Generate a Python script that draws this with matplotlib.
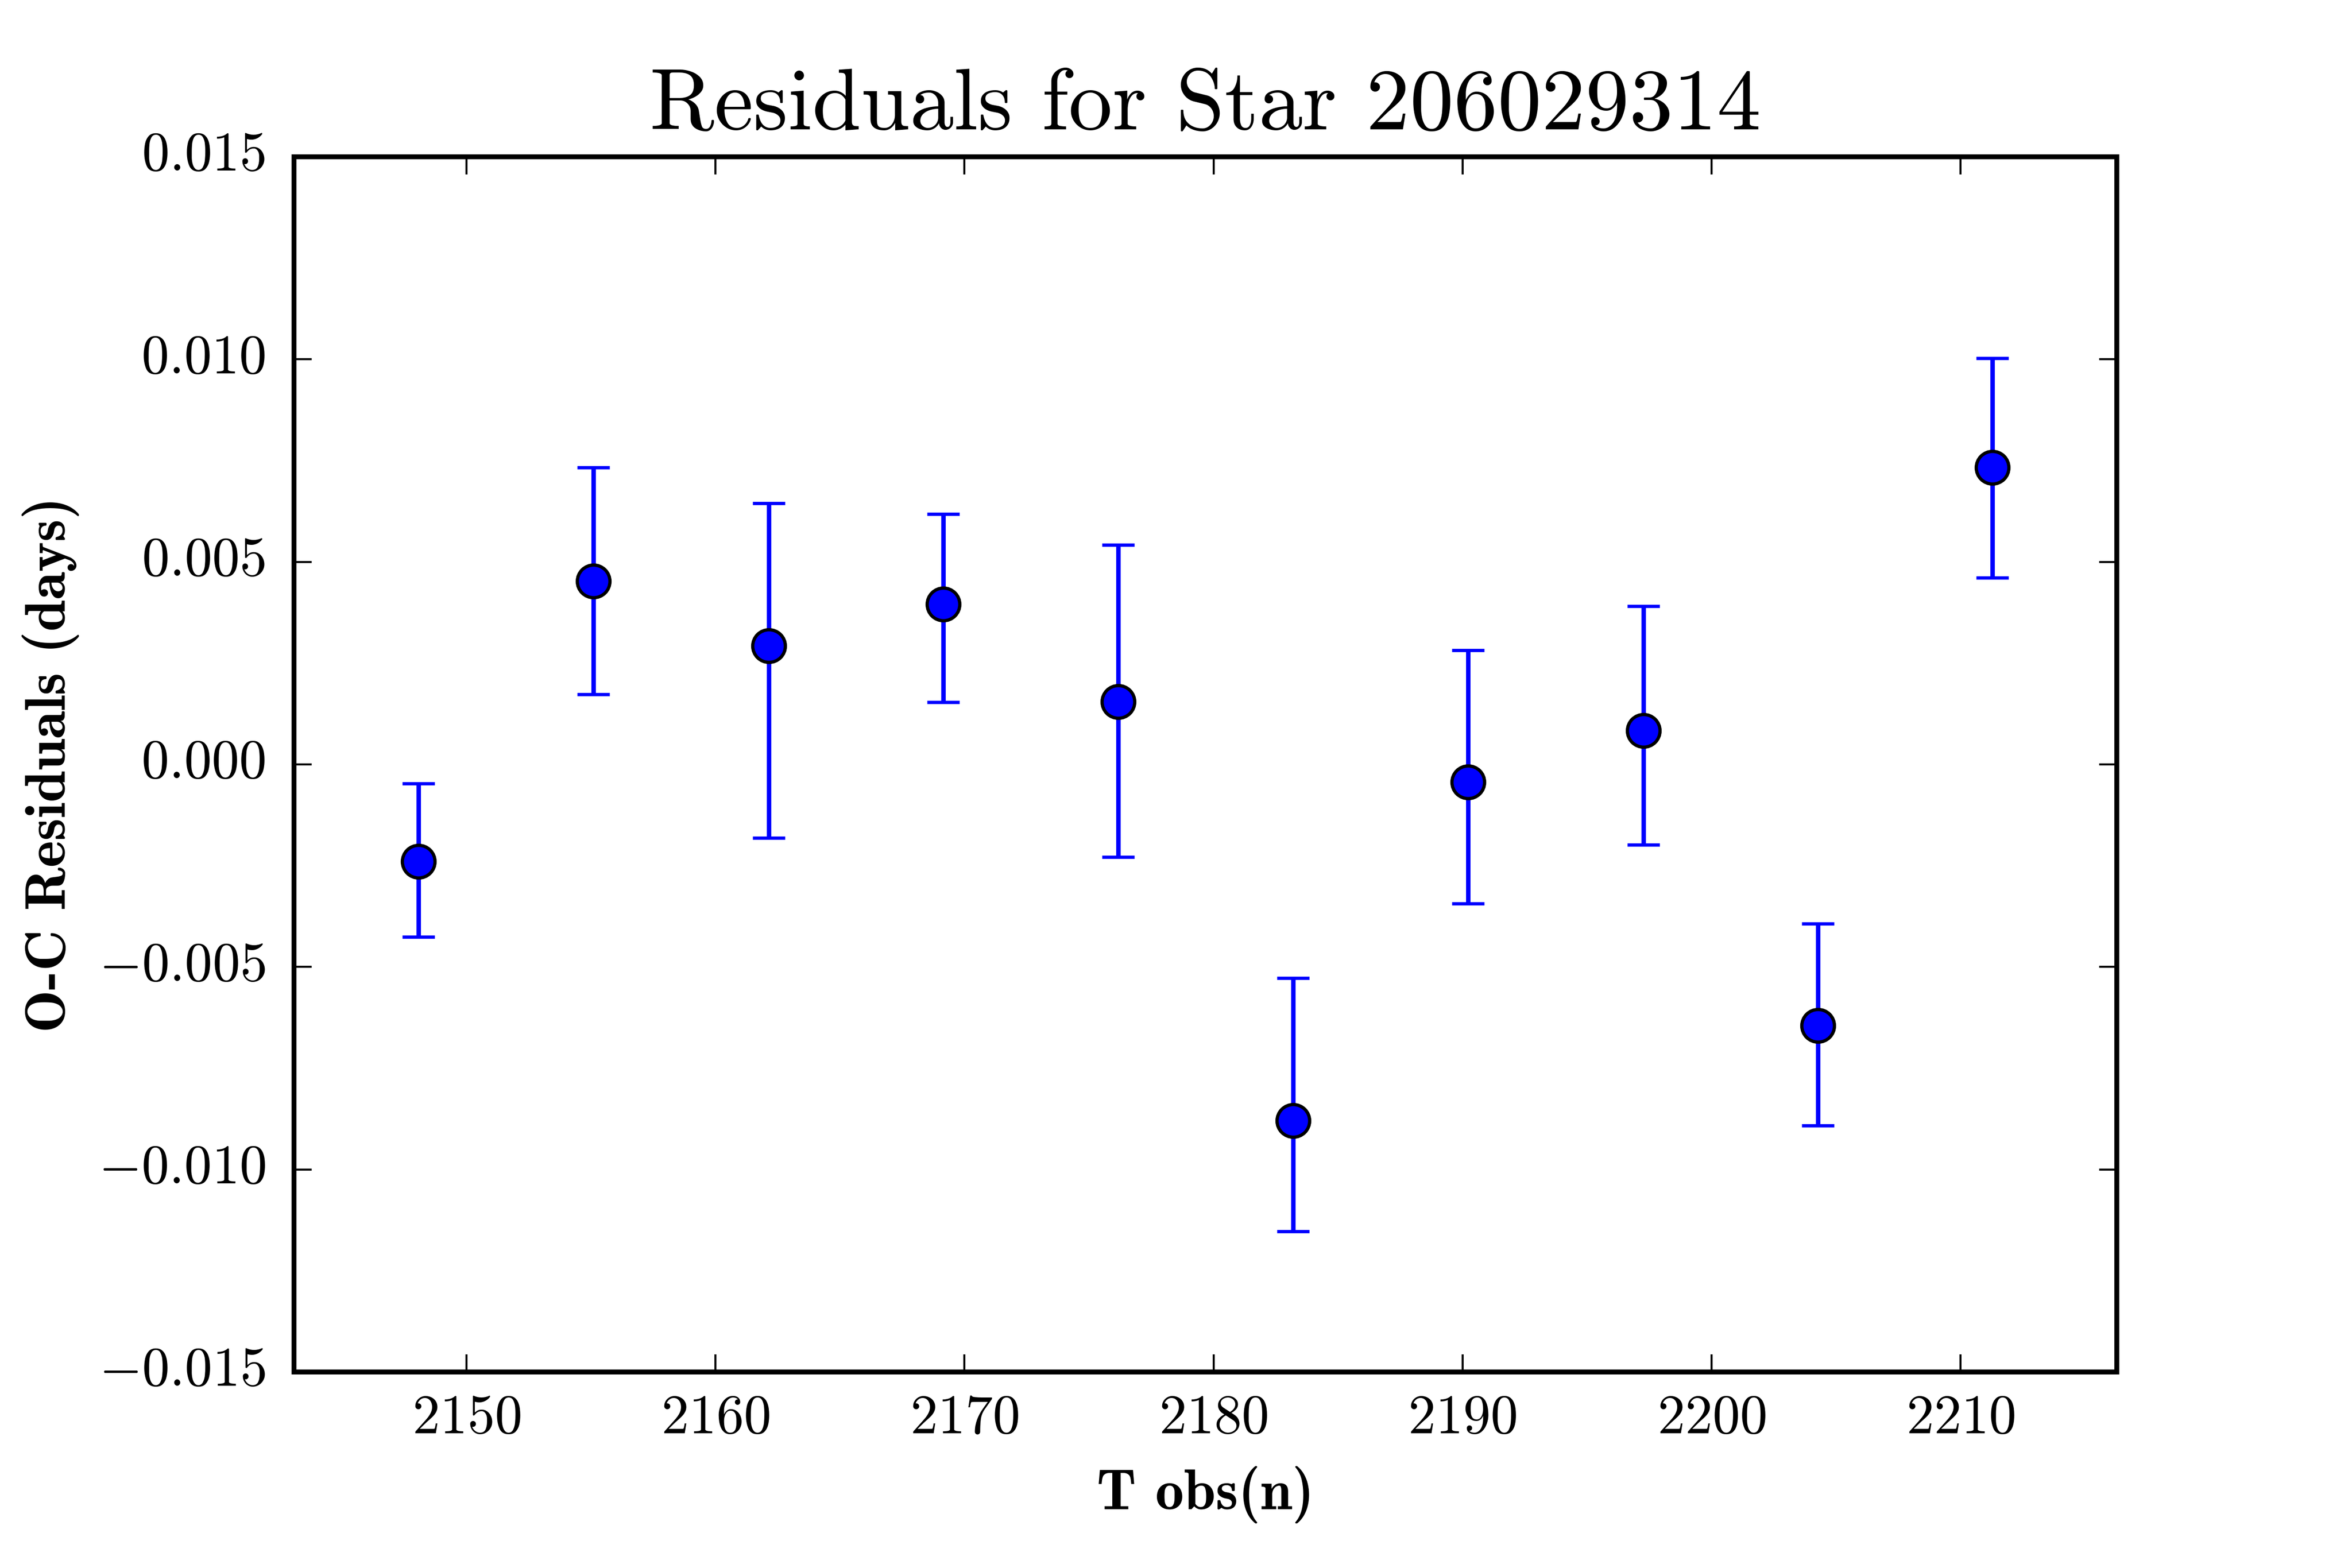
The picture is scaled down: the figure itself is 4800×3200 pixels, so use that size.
import matplotlib
matplotlib.use("Agg")
import matplotlib.pyplot as plt

# O-C residuals
t_obs = [2148.07, 2155.10, 2162.14, 2169.15, 2176.18,
         2183.19, 2190.23, 2197.26, 2204.27, 2211.28]
oc_resid = [-0.00239, 0.00453, 0.00293, 0.00395, 0.00155,
            -0.00880, -0.00043, 0.00084, -0.00645, 0.00733]
err_low = [0.00187, 0.00280, 0.00474, 0.00241, 0.00384,
           0.00273, 0.00301, 0.00282, 0.00247, 0.00272]
err_high = [0.00192, 0.00280, 0.00352, 0.00223, 0.00387,
            0.00353, 0.00325, 0.00307, 0.00252, 0.00270]

x_ticks = [2150, 2160, 2170, 2180, 2190, 2200, 2210]
y_ticks = [-0.015, -0.010, -0.005, 0.000, 0.005, 0.010, 0.015]
star_id = "206029314"

plt.style.use("classic")
plt.rcParams["font.family"] = "serif"
plt.rcParams["font.serif"] = ["cmr10"]
plt.rcParams["mathtext.fontset"] = "cm"
plt.rcParams["axes.formatter.use_mathtext"] = True
plt.rcParams["axes.unicode_minus"] = True

fig = plt.figure(figsize=(8, 16 / 3), facecolor="white")
ax = fig.add_axes([0.125, 0.125, 0.775, 0.775])

ax.errorbar(t_obs, oc_resid, yerr=[err_low, err_high], fmt="o",
            color="b", ecolor="b", mfc="b", mec="k", ms=8, mew=0.8,
            elinewidth=1.1, capsize=4, capthick=0.5)

ax.set_xlim(t_obs[0] - 5, t_obs[-1] + 5)
ax.set_ylim(-0.015, 0.015)
ax.set_xticks(x_ticks)
ax.set_yticks(y_ticks)
ax.minorticks_off()

for s in ax.spines.values():
    s.set_linewidth(1.2)
ax.tick_params(which="major", direction="in", length=4.3, width=0.5,
               labelsize=13.5, top=True, right=True)
ax.tick_params(axis="x", pad=5.5)
ax.tick_params(axis="y", pad=7)

ax.set_title("Residuals for Star " + star_id, fontsize=21.5, family="cmr10", pad=6.7)
ax.set_xlabel("T obs(n)", fontsize=14, family="cmb10", labelpad=5.5)
ax.set_ylabel("O-C Residuals (days)", fontsize=14, family="cmb10", labelpad=4.6)

fig.savefig("out.png", dpi=600, facecolor="white")
plt.close(fig)
